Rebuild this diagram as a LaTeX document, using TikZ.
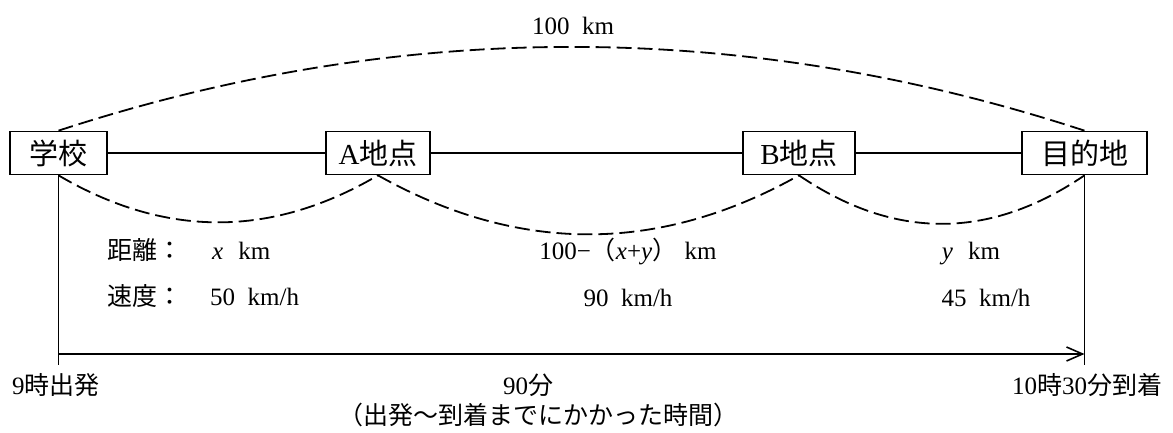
\documentclass[tikz,border=0pt]{standalone}
\usepackage{fontspec}
\setmainfont{Liberation Serif}
\newfontfamily\cjk{Noto Sans CJK JP}
\usetikzlibrary{arrows.meta}
\begin{document}
\begin{tikzpicture}[x=1pt,y=-1pt,
  place/.style={draw,line width=1.7pt,inner sep=0pt,minimum height=43pt,font=\fontsize{29}{33}\selectfont},
  lbl/.style={inner sep=0pt,text height=22pt,text depth=3pt,font=\fontsize{25}{30}\selectfont},
  dsh/.style={line width=1.8pt,dash pattern=on 15pt off 6pt},
  solidline/.style={line width=1.6pt}]
\useasboundingbox (0,0) rectangle (1173,432);
% boxes
\node[place,minimum width=97pt]  (s) at (58.5,153)  {\cjk 学校};
\node[place,minimum width=104pt] (a) at (378,153)   {A{\cjk 地点}};
\node[place,minimum width=112pt] (b) at (799,153)   {B{\cjk 地点}};
\node[place,minimum width=125pt] (g) at (1084.5,153) {\cjk 目的地};
% route
\draw[solidline] (s.east) -- (a.west);
\draw[solidline] (a.east) -- (b.west);
\draw[solidline] (b.east) -- (g.west);
% dashed arcs
\draw[dsh] (s.north) .. controls (400.5,19) and (742.5,19) .. (g.north);
\draw[dsh] (s.south) .. controls (165,238) and (271.5,238) .. (a.south);
\draw[dsh] (a.south) .. controls (518,254) and (659,254) .. (b.south);
\draw[dsh] (b.south) .. controls (894,240) and (989.5,240) .. (g.south);
% time axis
\coordinate (sb) at (58.5,365);
\coordinate (gb) at (1084.5,365);
\coordinate (as) at (58.5,354);
\coordinate (ae) at (1084.5,354);
\draw[solidline] (s.south) -- (sb);
\draw[solidline] (g.south) -- (gb);
\draw[solidline,-{Straight Barb[length=16pt,width=14pt]}] (as) -- (ae);
% labels
\node[lbl] (top) at (573,25) {100\hspace{0.5em}km};
\node[lbl,anchor=west] (d1) at (107,250) {\cjk 距離：};
\node[lbl,anchor=west] (d1v) at (212,250) {\textit{x}\hspace{0.6em}km};
\node[lbl,anchor=west] (v1) at (107,296) {\cjk 速度：};
\node[lbl,anchor=west] (v1v) at (210,296) {50\hspace{0.5em}km/h};
\node[lbl] (d2) at (628,250) {100−{\cjk （}\textit{x}+\textit{y}{\cjk ）}\hspace{0.3em}km};
\node[lbl] (v2) at (628,297) {90\hspace{0.5em}km/h};
\node[lbl] (d3) at (971,250) {\textit{y}\hspace{0.6em}km};
\node[lbl] (v3) at (986,297) {45\hspace{0.5em}km/h};
\node[lbl,anchor=west] (t0) at (12,385) {9{\cjk 時出発}};
\node[lbl] (t1) at (1087,385) {10{\cjk 時}30{\cjk 分到着}};
\node[lbl] (dur) at (528,385) {90{\cjk 分}};
\node[lbl] (durn) at (538,415) {\cjk （出発〜到着までにかかった時間）};
\end{tikzpicture}
\end{document}
